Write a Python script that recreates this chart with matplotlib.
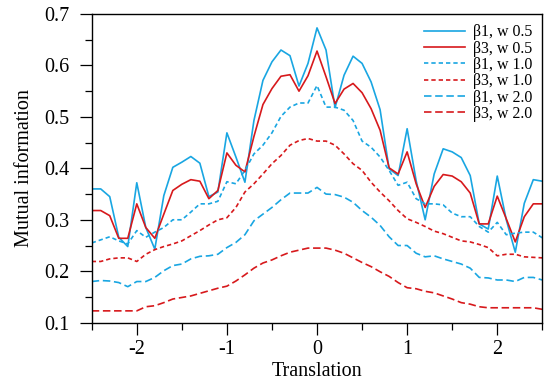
import matplotlib
matplotlib.use("Agg")
import matplotlib.pyplot as plt
import numpy as np
from matplotlib.ticker import MultipleLocator, FormatStrFormatter

plt.rcParams.update({'font.family': 'Liberation Serif', 'font.size': 14.5,
                     'axes.unicode_minus': False})

# translation grid, -2.5 .. 2.5 in steps of 0.1
translation = np.linspace(-2.5, 2.5, 51)

b1_w05 = [0.360, 0.360, 0.345, 0.266, 0.248, 0.372, 0.285, 0.243, 0.347, 0.402,
          0.412, 0.423, 0.410, 0.345, 0.354, 0.469, 0.422, 0.373, 0.493, 0.571,
          0.607, 0.630, 0.619, 0.560, 0.604, 0.673, 0.630, 0.518, 0.581, 0.618,
          0.604, 0.568, 0.514, 0.399, 0.386, 0.477, 0.376, 0.300, 0.389, 0.438,
          0.432, 0.421, 0.386, 0.292, 0.282, 0.385, 0.300, 0.237, 0.332, 0.378,
          0.375]
b3_w05 = [0.318, 0.318, 0.308, 0.264, 0.264, 0.331, 0.285, 0.264, 0.311, 0.357,
          0.369, 0.378, 0.375, 0.341, 0.357, 0.430, 0.406, 0.393, 0.462, 0.524,
          0.555, 0.579, 0.582, 0.550, 0.580, 0.628, 0.578, 0.526, 0.554, 0.565,
          0.547, 0.516, 0.474, 0.401, 0.389, 0.432, 0.370, 0.324, 0.365, 0.388,
          0.385, 0.374, 0.352, 0.292, 0.292, 0.346, 0.302, 0.257, 0.306, 0.331,
          0.331]
b1_w10 = [0.255, 0.261, 0.267, 0.259, 0.253, 0.279, 0.266, 0.276, 0.285, 0.300,
          0.300, 0.315, 0.331, 0.331, 0.336, 0.374, 0.370, 0.396, 0.428, 0.445,
          0.469, 0.501, 0.519, 0.527, 0.527, 0.561, 0.519, 0.519, 0.513, 0.493,
          0.453, 0.441, 0.422, 0.396, 0.367, 0.373, 0.341, 0.331, 0.331, 0.329,
          0.313, 0.306, 0.306, 0.287, 0.276, 0.295, 0.271, 0.274, 0.276, 0.276,
          0.265]
b3_w10 = [0.219, 0.219, 0.224, 0.226, 0.226, 0.219, 0.233, 0.242, 0.248, 0.253,
          0.259, 0.269, 0.279, 0.290, 0.300, 0.304, 0.324, 0.354, 0.370, 0.389,
          0.409, 0.425, 0.445, 0.454, 0.458, 0.453, 0.453, 0.445, 0.428, 0.409,
          0.396, 0.373, 0.354, 0.337, 0.318, 0.302, 0.295, 0.287, 0.278, 0.273,
          0.266, 0.259, 0.257, 0.252, 0.246, 0.230, 0.233, 0.233, 0.228, 0.227,
          0.226]
b1_w20 = [0.180, 0.182, 0.181, 0.178, 0.170, 0.180, 0.180, 0.188, 0.201, 0.211,
          0.214, 0.224, 0.229, 0.230, 0.233, 0.246, 0.256, 0.271, 0.298, 0.311,
          0.324, 0.339, 0.352, 0.352, 0.352, 0.363, 0.350, 0.349, 0.344, 0.334,
          0.318, 0.305, 0.289, 0.267, 0.250, 0.250, 0.235, 0.228, 0.230, 0.224,
          0.219, 0.214, 0.206, 0.188, 0.187, 0.183, 0.183, 0.180, 0.188, 0.188,
          0.183]
b3_w20 = [0.123, 0.123, 0.123, 0.123, 0.123, 0.123, 0.131, 0.133, 0.139, 0.146,
          0.149, 0.152, 0.157, 0.162, 0.167, 0.171, 0.181, 0.193, 0.206, 0.216,
          0.222, 0.230, 0.237, 0.241, 0.245, 0.245, 0.245, 0.241, 0.235, 0.226,
          0.217, 0.209, 0.199, 0.190, 0.178, 0.168, 0.166, 0.161, 0.158, 0.152,
          0.146, 0.139, 0.136, 0.131, 0.129, 0.129, 0.129, 0.129, 0.129, 0.129,
          0.126]

blue = '#19a6e2'
red = '#d7191c'
lw = 1.2

fig = plt.figure(figsize=(5.44, 3.92), dpi=100)
ax = fig.add_axes([0.1686, 0.1768, 0.8283, 0.7875])

ax.plot(translation, b1_w05, color=blue, lw=lw, label='β1, w 0.5')
ax.plot(translation, b3_w05, color=red, lw=lw, label='β3, w 0.5')
ax.plot(translation, b1_w10, color=blue, lw=lw, dashes=(2.6, 1.8), label='β1, w 1.0')
ax.plot(translation, b3_w10, color=red, lw=lw, dashes=(2.6, 1.8), label='β3, w 1.0')
ax.plot(translation, b1_w20, color=blue, lw=lw, dashes=(4.5, 2.2), label='β1, w 2.0')
ax.plot(translation, b3_w20, color=red, lw=lw, dashes=(4.5, 2.2), label='β3, w 2.0')

ax.set_xlim(-2.5, 2.5)
ax.set_ylim(0.1, 0.7)
ax.xaxis.set_major_locator(MultipleLocator(1))
ax.xaxis.set_minor_locator(MultipleLocator(0.5))
ax.yaxis.set_major_locator(MultipleLocator(0.1))
ax.yaxis.set_minor_locator(MultipleLocator(0.05))
ax.xaxis.set_major_formatter(FormatStrFormatter('%g'))
ax.yaxis.set_major_formatter(FormatStrFormatter('%.1f'))
ax.tick_params(which='major', direction='out', length=8.6, width=0.9)
ax.tick_params(which='minor', direction='out', length=4.7, width=0.9)
ax.tick_params(axis='y', which='major', pad=7.5)
ax.tick_params(axis='x', which='major', pad=4)
for s in ax.spines.values():
    s.set_linewidth(1.0)

ax.set_xlabel('Translation', labelpad=2)
ax.set_ylabel('Mutual information', labelpad=7)

ax.legend(loc='upper right', fontsize=11.5, frameon=False, handlelength=2.6,
          handletextpad=0.45, labelspacing=0.02, borderaxespad=0.25)

fig.savefig('out.png', dpi=100)
